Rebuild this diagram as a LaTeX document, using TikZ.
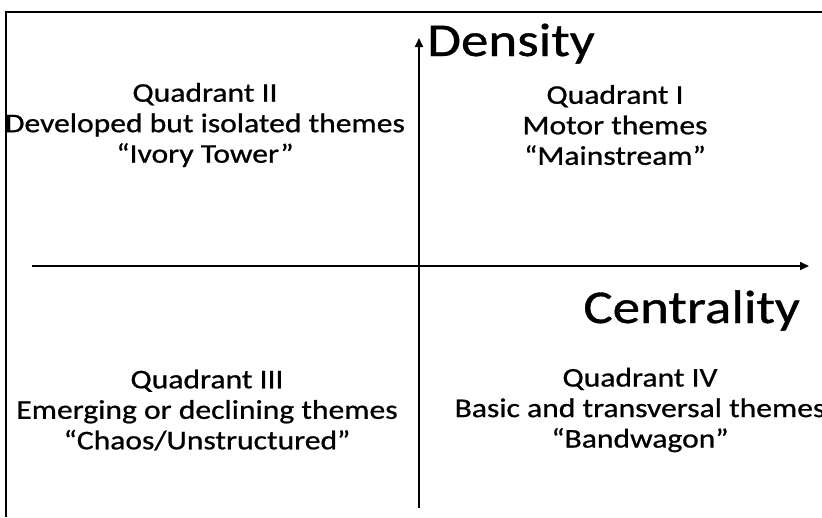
\documentclass[tikz,border=0pt]{standalone}
\usepackage{fontspec}
\setmainfont{Carlito}
\newfontfamily\widefont[FakeStretch=1.17,FakeBold=0.8,Ligatures=TeX]{Carlito}
\usetikzlibrary{arrows.meta,positioning}
\tikzset{
  axis/.style={-{Triangle[length=9pt,width=8pt]},line width=1.6pt},
  frame/.style={line width=2pt},
  quad/.style={align=center,font=\widefont\fontsize{27}{30.5}\selectfont},
  axlabel/.style={font=\widefont\fontsize{47}{50}\selectfont,inner sep=0pt}
}

\begin{document}
\begin{tikzpicture}[x=1pt,y=-1pt]
  \useasboundingbox (0,0) rectangle (822,517);
  \draw[frame] (6,517)--(6,12)--(822,12);
  % axes
  \coordinate (xl) at (32,266);
  \coordinate (xr) at (809,266);
  \coordinate (yb) at (419,508);
  \coordinate (yt) at (419,38);
  \draw[axis] (xl)--(xr);
  \draw[axis] (yb)--(yt);
  \node[axlabel,anchor=base west] (dens) at (427,56) {Density};
  \node[axlabel,anchor=base east] (cent) at (800,323) {Centrality};
  % quadrants
  \node[quad] (q2) at (205,125) {Quadrant II\\Developed but isolated themes\\“Ivory Tower”};
  \node[quad] (q1) at (615,125) {Quadrant I\\Motor themes\\“Mainstream”};
  \node[quad] (q3) at (207,410) {Quadrant III\\Emerging or declining themes\\“Chaos/Unstructured”};
  \node[quad] (q4) at (640,410) {Quadrant IV\\Basic and transversal themes\\“Bandwagon”};
\end{tikzpicture}
\end{document}
